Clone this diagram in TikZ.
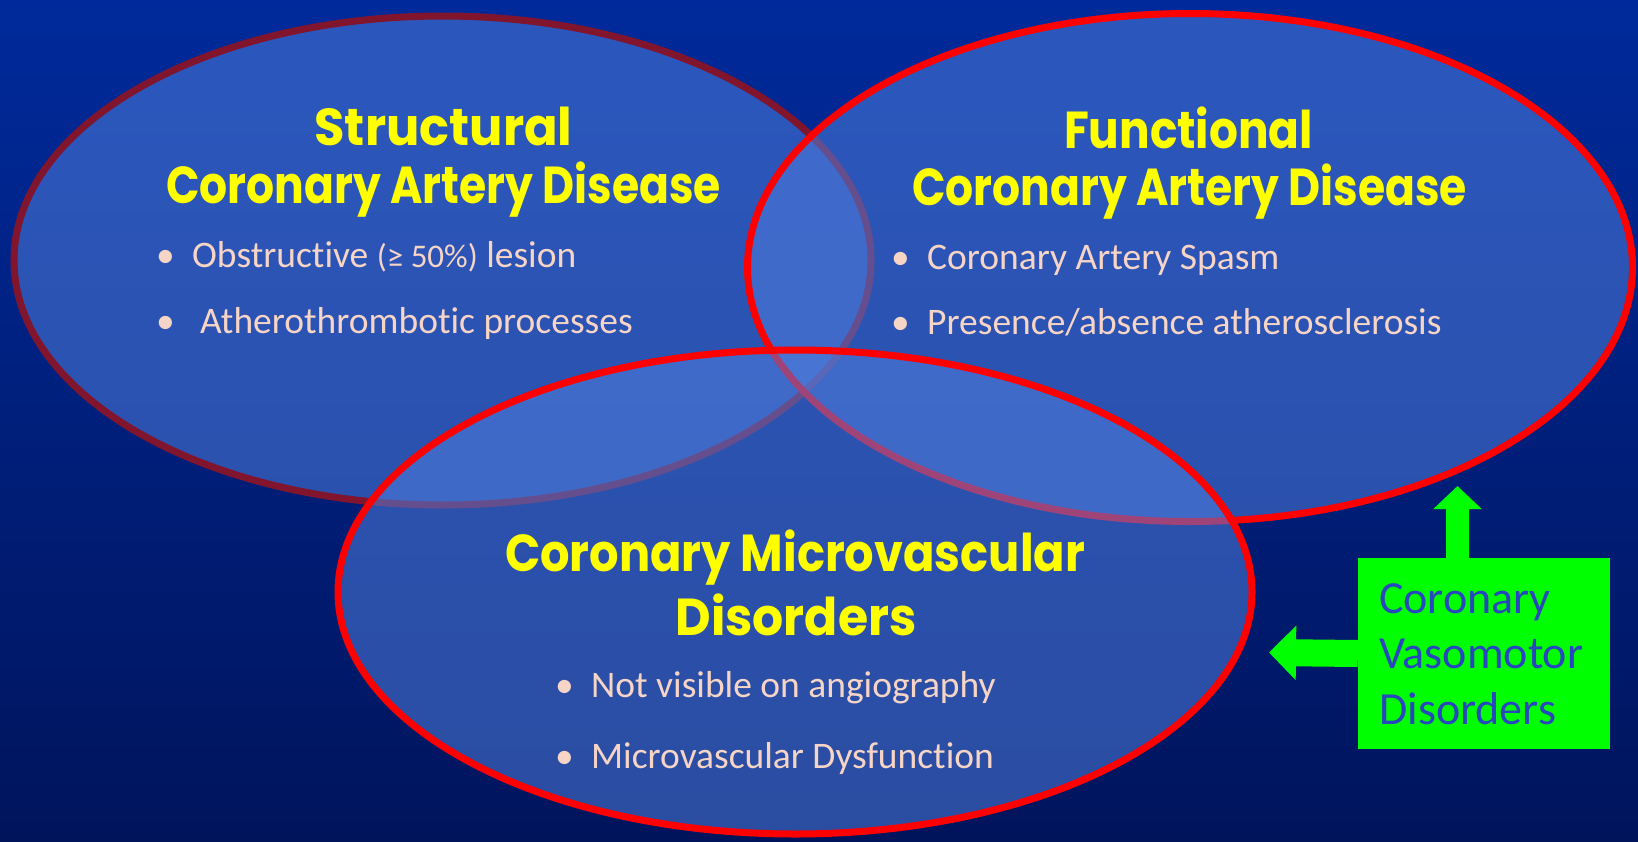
\documentclass[tikz,border=0pt]{standalone}
\usepackage{graphicx}
\usepackage{fontspec}
\setmainfont{Carlito}[Ligatures=NoCommon]
\newfontfamily\titlefont{Poppins}
\usetikzlibrary{shapes.geometric,arrows.meta,calc}
\definecolor{bgtop}{RGB}{0,42,155}
\definecolor{bgbot}{RGB}{0,20,92}
\definecolor{efill}{RGB}{80,125,220}
\definecolor{darkrim}{RGB}{128,21,45}
\definecolor{rim}{RGB}{255,0,0}
\definecolor{ttl}{RGB}{255,255,0}
\definecolor{bul}{RGB}{246,212,198}
\definecolor{cvgreen}{RGB}{0,255,0}
\definecolor{cvtext}{RGB}{40,70,190}
\newsavebox{\fitbox}
\newcommand\fitw[2]{\sbox{\fitbox}{#2}\scalebox{\fpeval{#1*65536/\number\wd\fitbox}}[1]{\usebox{\fitbox}}}
\tikzset{
  venn/.style={ellipse, draw=rim, line width=7pt, fill=efill, fill opacity=0.55, draw opacity=1, inner sep=0pt, outer sep=0pt},
  ttlline/.style={anchor=base, inner sep=0pt, text=ttl, font=\titlefont\bfseries\fontsize{52}{60}\selectfont},
  bulline/.style={anchor=base west, inner sep=0pt, text=bul, font=\fontsize{37.5}{44}\selectfont},
  cvbox/.style={rectangle, fill=cvgreen, inner sep=0pt, minimum width=252pt, minimum height=191pt},
  cvlabel/.style={anchor=base west, inner sep=0pt, align=left, text=cvtext, font=\fontsize{46}{55.5}\selectfont},
  garrowup/.style={draw=cvgreen, line width=23pt, -{Triangle[width=47pt,length=23pt]}},
  garrowleft/.style={draw=cvgreen, line width=27pt, -{Triangle[width=53pt,length=27pt]}},
}
\newcommand\bl[1]{\makebox[#1][l]{•}}
\begin{document}
\begin{tikzpicture}[x=1pt,y=-1pt]
  \useasboundingbox (0,0) rectangle (1638,841);
  \shade[top color=bgtop, bottom color=bgbot] (0,0) rectangle (1638,841);
  % ellipses
  \node[venn, draw=darkrim, minimum width=857pt, minimum height=489pt] (sca) at (442.5,260.5) {};
  \node[venn, minimum width=885pt, minimum height=508pt] (fca) at (1190,267.5) {};
  \node[venn, minimum width=914pt, minimum height=484pt] (cmd) at (795,592) {};
  % titles
  \node[ttlline] (sca1) at (443.5,145) {\fitw{258}{Structural}};
  \node[ttlline] (sca2) at (443.5,203) {\fitw{555}{Coronary Artery Disease}};
  \node[ttlline] (fca1) at (1188.5,148) {\fitw{249}{Functional}};
  \node[ttlline] (fca2) at (1189.5,205) {\fitw{555}{Coronary Artery Disease}};
  \node[ttlline] (cmd1) at (795,571) {\fitw{580}{Coronary Microvascular}};
  \node[ttlline] (cmd2) at (796,635) {\fitw{241}{Disorders}};
  % bullets
  \node[bulline] (sb1) at (156,267) {\bl{36pt}Obstructive {\fontsize{33}{38}\selectfont(≥ 50\%)} lesion};
  \node[bulline] (sb2) at (156,333) {\bl{44pt}Atherothrombotic processes};
  \node[bulline] (fb1) at (891,269) {\bl{36pt}Coronary Artery Spasm};
  \node[bulline] (fb2) at (891,334) {\bl{36pt}Presence/absence atherosclerosis};
  \node[bulline] (cb1) at (555,697) {\bl{36pt}Not visible on angiography};
  \node[bulline] (cb2) at (555,768) {\bl{36pt}Microvascular Dysfunction};
  % vasomotor box
  \node[cvbox] (cvd) at (1484,653.5) {};
  \node[cvlabel] (cvdtext) at (1379,724) {Coronary\\Vasomotor\\Disorders};
  \coordinate (uptip) at (1457.5,486);
  \coordinate (lefttip) at (1269,652.5);
  \draw[garrowup] (cvd.north -| uptip) -- (uptip);
  \draw[garrowleft] (cvd.west) -- (lefttip);
\end{tikzpicture}
\end{document}
